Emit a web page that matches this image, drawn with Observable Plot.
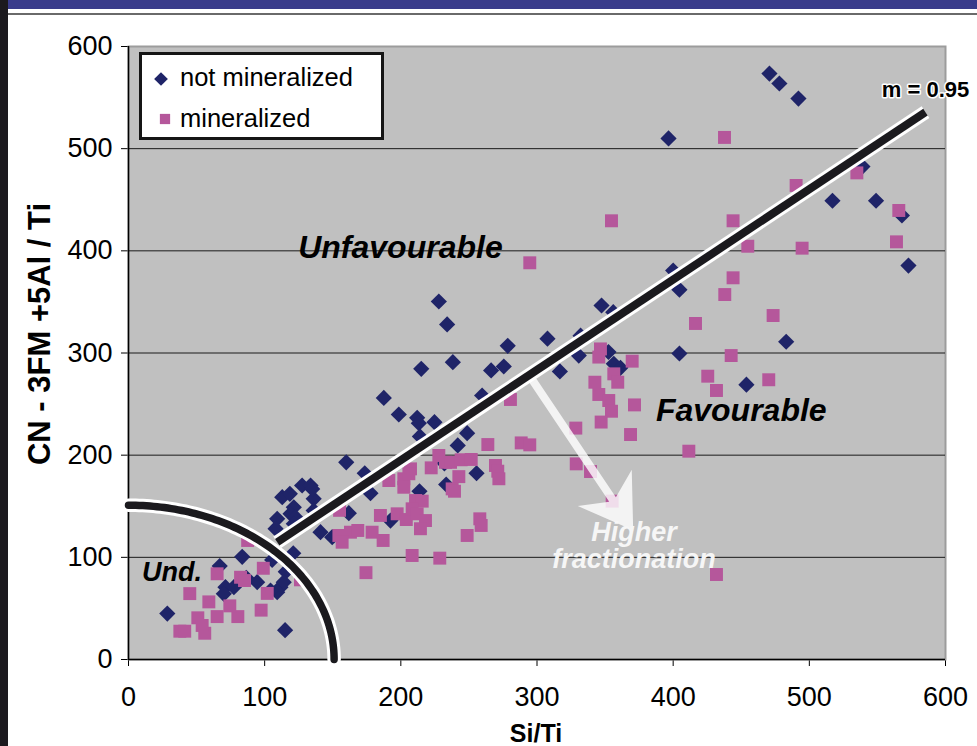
<!DOCTYPE html>
<html><head><meta charset="utf-8">
<script src="https://cdn.jsdelivr.net/npm/d3@7"></script>
<script src="https://cdn.jsdelivr.net/npm/@observablehq/plot@0.6"></script>
<style>
html,body{margin:0;padding:0;background:#fff;width:977px;height:746px;overflow:hidden;position:relative;font-family:"Liberation Sans",Arial,sans-serif}
#topband{position:absolute;left:0;top:0;width:977px;height:9px;background:#393b8b}
#topline{position:absolute;left:0;top:13px;width:977px;height:2px;background:#6a6a6a}
#leftbar{position:absolute;left:0;top:0;width:8px;height:746px;background:#1c1a1f}
#chart{position:absolute;left:0;top:0}
</style></head><body>
<div id="chart"></div>
<div id="topband"></div><div id="topline"></div><div id="leftbar"></div>
<script>
// ---- data ----
const seriesNames = ["not mineralized", "mineralized"];
const notMineralized = [
[28.5,45],[115,28.7],[67,91.5],[83.5,100.5],[105.5,97.5],[121,104],[94.5,75.7],[86.5,80],[115.5,86],
[71.2,70.8],[77.4,70.8],[70,64.3],[111.6,70.8],[114,75.7],[109.2,65.9],[104.3,67.5],
[127.5,170.3],[133.7,170.3],[112.9,158.9],[118.5,162.2],[136,157.3],[121.4,149],[119,142.6],[122.6,139.3],
[109.2,137.7],[108,128],[121.4,132.8],[134.9,167],[136,145.8],
[159.9,193],[173.5,182.3],[177.7,162.8],[161.8,143.2],[141,124.6],[149.6,119.7],[192.4,136],
[187.5,256],[198.5,239.8],[212,236.6],[213.2,231.3],[224.7,232.3],[214,218.3],[248.7,221.5],[241.8,209.5],
[255.6,182.3],[233.3,171.3],[213.7,164.7],[232,192],
[227.9,350.4],[234,328],[215,284.5],[238.2,291],[266.3,282.9],[275.6,286.8],[259.7,258.4],[278.5,307],
[307.7,314],[316.8,282],[330.7,297.5],[332,317],[347.4,346.5],[356,340],[352.5,301],[356.4,289.4],[361.3,285.5],
[400,380.7],[404.6,362],[404.6,299.5],[453.8,269],[483,311],[396.6,510],[470.7,573.5],[478,563.8],[492,549],
[517,449],[549,449],[568,434.6],[572.8,385.6],[539,482.5]
];
const mineralized = [
[37.7,27.7],[41.3,27.7],[56,25.7],[50.9,40.8],[54.1,33.3],[65.1,42],[80.3,42],[97.4,48.3],[59,56.4],[74.4,52.5],
[45,64.5],[101.9,64.7],[65.1,83.9],[82.3,80.5],[85.2,77.3],[99,89.3],[87.5,116.5],[126.3,78],
[155,146],[154.5,121.4],[163,124.6],[168.4,126.3],[156.9,114.8],[178.9,124.6],[174.4,85],[187,116.5],[185,141],
[197.3,142.6],[204,137],[210.8,155.6],[215.7,155],[208.3,147.5],[212,142.6],[218.1,136],[214.4,128],
[191.2,175.2],[202.2,176.9],[202.2,168.6],[207.1,186.6],[205.9,181.8],[222.3,187.6],[227.9,199.7],[232.8,193],
[236.5,193],[244.3,195.5],[251.7,195.8],[242.6,179],[237.7,167],[239.4,164.7],[269.5,189.9],[271.2,184.3],
[272,176.9],[263.9,210.4],[288.4,212],[294.7,210.1],[280.5,254.5],[248.7,121.4],[258,137.7],[259,131.2],
[208.3,101.8],[228.6,99.2],
[294.7,388.3],[328.5,226.5],[328.8,191.5],[339.3,184],[355.2,155],[346.6,304],[345.4,296],[369.9,292],
[356.4,279.6],[359.3,271.4],[342.5,271.4],[345.4,259.4],[352.7,253.5],[354.7,243],[371.6,249.2],[347.1,232.4],
[368.7,220.2],[411.5,203.9],[425.4,277.3],[431.8,263.3],[470.2,273.8],[442.6,297.5],[416.4,328.9],[437.9,357.2],
[444,373.6],[473.4,336.7],[454.8,404.5],[444,429.4],[354.7,429.4],[437.7,511],[490.3,464],[494.7,402.6],
[534.9,476.3],[565.7,439.5],[564,408.8],[431.8,83.2]
];
const xTicks = [0,100,200,300,400,500,600];
const yTicks = [0,100,200,300,400,500,600];
const gridTicks = [100,200,300,400,500];
const trendLine = [[109.2,114.8],[585.3,535.7]];
const arcRadius = 151;
const arrowEnds = [[297,273],[371,126]];
const regionLabels = [
  {text:"Unfavourable", x:199.7, y:403},
  {text:"Favourable", x:450, y:243.7}
];
const undLabel = [{text:"Und.", x:32, y:85}];
const slopeLabel = [{text:"m = 0.95", x:585.3, y:557}];
const fracLabels = [{text:"Higher", x:371.6, y:125},{text:"fractionation", x:371.6, y:98.5}];

// ---- styles ----
const NAVY = "#1f2468", PINK = "#b5579b";
const FONT = '"Liberation Sans", Arial, Helvetica, sans-serif';

// arc geometry (annotation boundary of radius arcRadius around origin)
const arcPts = d3.range(0, 90.5, 1).map(a => [arcRadius*Math.cos(a*Math.PI/180), arcRadius*Math.sin(a*Math.PI/180)]);

const plot = Plot.plot({
  width: 977, height: 746,
  marginLeft: 128, marginRight: 32, marginTop: 46, marginBottom: 87,
  style: {fontFamily: FONT, fontSize: "27px", color: "#000", background: "transparent", overflow: "visible"},
  x: {domain: [0, 600], ticks: xTicks, tickSize: 7, tickPadding: 20, label: null, tickFormat: d => d},
  y: {domain: [0, 600], ticks: yTicks, tickSize: 7, tickPadding: 9, label: null, tickFormat: d => d},
  marks: [
    Plot.frame({fill: "#c0c0c0", stroke: "#9c9c9c", strokeWidth: 2}),
    Plot.ruleY(gridTicks, {stroke: "#1a1a1a", strokeWidth: 1}),
    Plot.ruleX([0], {stroke: "#000", strokeWidth: 1.5}),
    Plot.ruleY([0], {stroke: "#000", strokeWidth: 1.5}),
    Plot.dot(notMineralized, {x: d => d[0], y: d => d[1], symbol: "diamond2", r: 7.3, fill: NAVY, stroke: null}),
    Plot.dot(mineralized, {x: d => d[0], y: d => d[1], symbol: "square", r: 7.3, fill: PINK, stroke: null}),
    Plot.line(arcPts, {x: d => d[0], y: d => d[1], stroke: "#fff", strokeWidth: 13.5, curve: "linear"}),
    Plot.line(arcPts, {x: d => d[0], y: d => d[1], stroke: "#1b1a1e", strokeWidth: 7.5, curve: "linear"}),
    Plot.line(trendLine, {x: d => d[0], y: d => d[1], stroke: "#fff", strokeWidth: 14, strokeLinecap: "butt"}),
    Plot.line(trendLine, {x: d => d[0], y: d => d[1], stroke: "#1b1a1e", strokeWidth: 8, strokeLinecap: "butt"}),
    Plot.text(regionLabels, {x: "x", y: "y", text: "text", fontSize: 32, fontWeight: "bold", fontStyle: "italic", fill: "#000"}),
    Plot.text(undLabel, {x: "x", y: "y", text: "text", fontSize: 27, fontWeight: "bold", fontStyle: "italic", fill: "#000"}),
    Plot.text(slopeLabel, {x: "x", y: "y", text: "text", fontSize: 22, fontWeight: "bold", fill: "#000", stroke: "#fff", strokeWidth: 3})
  ]
});
document.getElementById("chart").appendChild(plot);

const svg = d3.select(plot);
const xs = plot.scale("x"), ys = plot.scale("y");
const sx = d3.scaleLinear(xs.domain, xs.range), sy = d3.scaleLinear(ys.domain, ys.range);

// arrow (under the trend line)
{
  const P0 = [sx(arrowEnds[0][0]), sy(arrowEnds[0][1])];
  const T = [sx(arrowEnds[1][0]), sy(arrowEnds[1][1])];
  const dx = T[0]-P0[0], dy = T[1]-P0[1], L = Math.hypot(dx, dy);
  const u = [dx/L, dy/L], n = [-u[1], u[0]];
  const hl = 51, hw = 32.5, notch = 37, sw = 4;
  const pt = (base, a, b) => [base[0] + u[0]*a + n[0]*b, base[1] + u[1]*a + n[1]*b];
  const pts = [pt(P0,0,sw), pt(T,-notch,sw), pt(T,-hl,hw), T, pt(T,-hl,-hw), pt(T,-notch,-sw), pt(P0,0,-sw)];
  const firstLine = plot.querySelector('g[aria-label="line"]');
  const g = document.createElementNS("http://www.w3.org/2000/svg", "path");
  g.setAttribute("d", "M" + pts.map(p => p.join(",")).join("L") + "Z");
  g.setAttribute("fill", "#ffffff");
  g.setAttribute("fill-opacity", "0.8");
  firstLine.parentNode.insertBefore(g, firstLine);
}

// fractionation labels (white)
fracLabels.forEach(l => {
  svg.append("text").attr("x", sx(l.x)).attr("y", sy(l.y)).attr("dy", "0.35em")
    .attr("text-anchor", "middle").attr("font-family", FONT).attr("font-size", 27)
    .attr("font-weight", "bold").attr("font-style", "italic").attr("fill", "#f6f6f6").text(l.text);
});

// axis titles
svg.append("text").attr("x", 536).attr("y", 742).attr("text-anchor", "middle")
  .attr("font-family", FONT).attr("font-size", 25).attr("font-weight", "bold").text("Si/Ti");
svg.append("text").attr("transform", "translate(39,334) rotate(-90)").attr("text-anchor", "middle")
  .attr("dy", "0.35em").attr("font-family", FONT).attr("font-size", 31).attr("font-weight", "bold")
  .text("CN - 3FM +5Al / Ti");

// legend
const lg = svg.append("g").attr("text-anchor", "start");
lg.append("rect").attr("x", 140.5).attr("y", 53.5).attr("width", 242).attr("height", 85)
  .attr("fill", "#fff").attr("stroke", "#151515").attr("stroke-width", 3);
lg.append("path").attr("d", d3.symbol(d3.symbolDiamond2, 120)()).attr("transform", "translate(161,79)").attr("fill", NAVY);
lg.append("path").attr("d", d3.symbol(d3.symbolSquare, 105)()).attr("transform", "translate(165,119)").attr("fill", PINK);
lg.append("text").attr("x", 180).attr("y", 86).attr("text-anchor", "start").attr("font-family", FONT).attr("font-size", 25.5).text(seriesNames[0]);
lg.append("text").attr("x", 180).attr("y", 127).attr("text-anchor", "start").attr("font-family", FONT).attr("font-size", 25.5).text(seriesNames[1]);
</script></body></html>
